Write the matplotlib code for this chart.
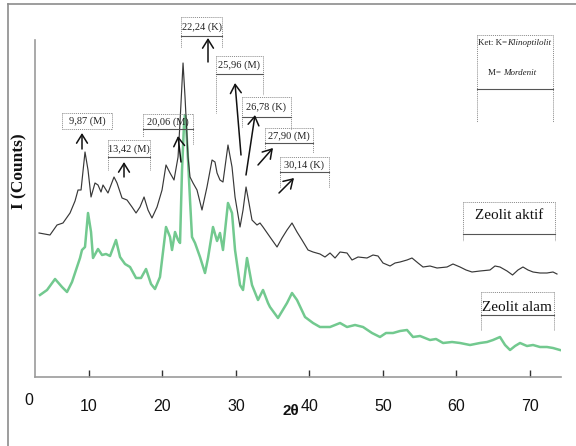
import matplotlib
matplotlib.use("Agg")
import matplotlib.pyplot as plt

# ---- values (2theta in degrees, intensity in arbitrary counts) ----
aktif_2theta = [3.19, 4.68, 5.64, 6.45, 7.41, 8.09, 8.50, 8.91, 9.45, 9.86, 10.27, 10.81,
                11.22, 11.63, 11.90, 12.58, 13.40, 13.81, 14.49, 15.17, 15.85, 16.40, 16.94,
                17.49, 18.03, 18.57, 19.26, 19.94, 20.48, 21.03, 21.57, 22.12, 22.39, 22.80,
                23.07, 23.48, 23.75, 24.16, 24.70, 25.38, 26.06, 26.75, 27.15, 27.43, 27.83,
                28.24, 28.92, 29.47, 29.88, 30.56, 30.97, 31.38, 31.78, 32.19, 32.87, 33.28,
                33.69, 34.64, 35.60, 36.28, 36.96, 37.64, 38.32, 39.00, 39.82, 40.50, 41.45,
                42.13, 42.82, 43.50, 44.18, 45.13, 45.81, 46.63, 47.85, 48.67, 49.35, 50.03,
                50.99, 51.67, 52.35, 53.30, 53.98, 54.80, 55.48, 56.43, 57.39, 58.75, 59.56,
                60.52, 61.34, 62.15, 63.24, 64.60, 65.28, 65.96, 66.92, 67.67, 68.41, 69.09,
                69.78, 70.46, 71.41, 72.36, 73.18, 73.72]
aktif_counts = [144, 142, 152, 154, 164, 176, 187, 187, 225, 207, 180, 194,
                192, 185, 192, 184, 200, 194, 179, 177, 170, 164, 170,
                180, 167, 159, 170, 187, 212, 204, 197, 220, 255, 314,
                280, 220, 200, 194, 187, 167, 190, 217, 215, 204, 197,
                195, 232, 210, 180, 150, 167, 190, 174, 157, 152, 154,
                150, 140, 130, 139, 147, 154, 145, 137, 127, 125, 123,
                120, 124, 119, 125, 124, 117, 120, 119, 122, 121, 114,
                111, 114, 115, 117, 119, 114, 110, 111, 109, 110, 113,
                110, 107, 105, 106, 107, 111, 110, 106, 102, 107, 110,
                107, 105, 104, 104, 105, 103]

alam_2theta = [3.32, 4.28, 5.37, 6.32, 7.00, 7.68, 8.36, 8.77, 9.04, 9.45, 9.86, 10.27,
               10.54, 11.22, 11.77, 12.31, 12.86, 13.67, 14.22, 14.90, 15.58, 16.40, 17.08,
               17.76, 18.44, 18.98, 19.66, 20.48, 21.03, 21.30, 21.71, 22.12, 22.39, 22.66,
               22.93, 23.07, 23.20, 23.48, 23.75, 24.02, 24.43, 25.11, 25.79, 26.20, 26.88,
               27.43, 27.83, 28.24, 28.92, 29.47, 29.88, 30.56, 30.97, 31.51, 32.19, 33.01,
               33.69, 34.37, 34.64, 35.73, 36.96, 37.64, 38.32, 39.41, 40.50, 41.45, 42.82,
               44.18, 45.13, 46.22, 47.31, 48.53, 49.62, 50.44, 51.40, 52.35, 53.30, 54.12,
               55.07, 56.43, 57.25, 58.21, 59.43, 60.52, 61.88, 63.24, 64.20, 65.01, 65.96,
               66.65, 67.33, 68.01, 68.69, 69.64, 70.46, 71.41, 72.36, 73.18, 74.13]
alam_counts = [82, 87, 98, 90, 85, 95, 110, 119, 127, 130, 164, 145,
               119, 128, 122, 123, 121, 137, 120, 113, 110, 99, 99,
               108, 93, 88, 100, 150, 140, 127, 145, 137, 134, 207,
               252, 262, 254, 217, 177, 140, 134, 120, 104, 119, 150,
               136, 144, 127, 174, 164, 127, 92, 87, 119, 92, 77,
               87, 74, 70, 59, 74, 84, 77, 60, 54, 50, 50,
               54, 50, 52, 50, 44, 40, 44, 44, 46, 47, 40,
               41, 37, 38, 34, 35, 34, 32, 34, 35, 37, 40,
               32, 27, 31, 34, 31, 32, 30, 30, 29, 27]

x_ticks = [10, 20, 30, 40, 50, 60, 70]
peak_labels = ["9,87 (M)", "13,42 (M)", "20,06 (M)", "22,24 (K)",
               "25,96 (M)", "26,78 (K)", "27,90 (M)", "30,14 (K)"]

# ---- layout (pixels of the 576x446 canvas) ----
W, H = 576, 446
AX_L, AX_R, AX_T, AX_B = 35, 561, 40, 377
# box: x0, x1, top, rule, left side end, right side end, solid rule
PEAK_BOXES = [
    (62, 112, 113, 129, 129, 129, False),
    (108, 150, 140, 157, 170, 170, True),
    (143, 193, 114, 129, 137, 145, True),
    (181, 222, 17, 36, 48, 48, True),
    (216, 263, 56, 74, 113, 95, True),
    (242, 291, 97, 117, 127, 130, True),
    (265, 313, 128, 143, 150, 153, True),
    (280, 329, 157, 172, 188, 188, True),
]
PEAK_ARROWS = [
    ((82, 149), (82, 133)),
    ((124, 177), (124, 162)),
    ((181, 162), (178, 136)),
    ((208, 62), (208, 38)),
    ((241, 155), (235, 83)),
    ((246, 175), (255, 115)),
    ((258, 165), (273, 148)),
    ((279, 193), (294, 178)),
]

SERIF = "Liberation Serif"
GREEN = "#72c98f"
DOT = "#8a8a8a"
plt.rcParams["font.family"] = ["Liberation Sans", "DejaVu Sans"]

fig = plt.figure(figsize=(W / 100, H / 100), dpi=100)
ax = fig.add_axes([AX_L / W, 1 - AX_B / H, (AX_R - AX_L) / W, (AX_B - AX_T) / H])

ax.plot(alam_2theta, alam_counts, color=GREEN, lw=1.8, zorder=2)
ax.plot(aktif_2theta, aktif_counts, color="#383838", lw=0.85, zorder=3)

ax.set_xlim(2.64, 74.27)
ax.set_ylim(0, 337)
ax.set_yticks([])
ax.set_xticks(x_ticks)
ax.tick_params(axis="x", direction="in", length=5, width=1, color="#333333",
               pad=16, labelsize=11.5, labelcolor="#111111")
ax.text(1.8, -0.048, "0", transform=ax.get_xaxis_transform(), ha="center", va="top",
        fontsize=11.5, color="#111111", clip_on=False)
for side in ("top", "right"):
    ax.spines[side].set_visible(False)
for side in ("left", "bottom"):
    ax.spines[side].set_color("#9b9b9b")
    ax.spines[side].set_linewidth(1.2)

ax.set_xlabel("2θ", fontsize=11, fontweight="bold", color="#111111")
ax.xaxis.set_label_coords((291 - AX_L) / (AX_R - AX_L), (AX_B - 404) / (AX_B - AX_T))
ax.set_ylabel("I (Counts)", family=SERIF, fontsize=12.5, fontweight="bold", color="#111111")
ax.yaxis.set_label_coords(-0.0152, (AX_B - 171) / (AX_B - AX_T))

# ---- overlay in canvas pixels for frame, boxes and arrows ----
ov = fig.add_axes([0, 0, 1, 1], zorder=5)
ov.set_xlim(0, W)
ov.set_ylim(H, 0)
ov.axis("off")

ov.plot([8, W], [4, 4], color="#8c8c8c", lw=1.2)
ov.plot([8, 8], [4, H], color="#8c8c8c", lw=1.2)


def label_box(x0, x1, top, rule, yl, yr, solid=True):
    dotted = dict(color=DOT, lw=0.7, ls=(0, (1, 1)))
    ov.plot([x0, x1], [top, top], **dotted)
    ov.plot([x0, x0], [top, yl], **dotted)
    ov.plot([x1, x1], [top, yr], **dotted)
    if solid:
        ov.plot([x0, x1], [rule, rule], color="#555555", lw=0.8)
    else:
        ov.plot([x0, x1], [rule, rule], **dotted)


for text, box, (tail, head) in zip(peak_labels, PEAK_BOXES, PEAK_ARROWS):
    x0, x1, top, rule, yl, yr, solid = box
    label_box(x0, x1, top, rule, yl, yr, solid)
    ov.text((x0 + x1) / 2, (top + rule) / 2 + 0.5, text, family=SERIF, fontsize=7.5,
            ha="center", va="center", color="#222222")
    ov.annotate("", xy=head, xytext=tail,
                arrowprops=dict(arrowstyle="->,head_length=0.45,head_width=0.28",
                                color="#111111", lw=1.1, shrinkA=0, shrinkB=0,
                                mutation_scale=14))

# key box
label_box(477, 553, 35, 89, 122, 122)
ov.text(507, 45, "Ket: K=", family=SERIF, fontsize=6.5, ha="right", va="baseline", color="#222222")
ov.text(507, 45, "Klinoptilolit", family=SERIF, fontsize=6.5, style="italic",
        ha="left", va="baseline", color="#222222")
ov.text(503, 75, "M= ", family=SERIF, fontsize=6.5, ha="right", va="baseline", color="#222222")
ov.text(503, 75, "Mordenit", family=SERIF, fontsize=6.5, style="italic",
        ha="left", va="baseline", color="#222222")

# series labels
label_box(463, 555, 202, 234, 241, 241)
ov.text(509, 219, "Zeolit aktif", family=SERIF, fontsize=11, ha="center", va="baseline",
        color="#111111")
label_box(481, 554, 292, 315, 330, 330)
ov.text(517, 311, "Zeolit alam", family=SERIF, fontsize=11, ha="center", va="baseline",
        color="#111111")

fig.savefig("out.png", dpi=100)
